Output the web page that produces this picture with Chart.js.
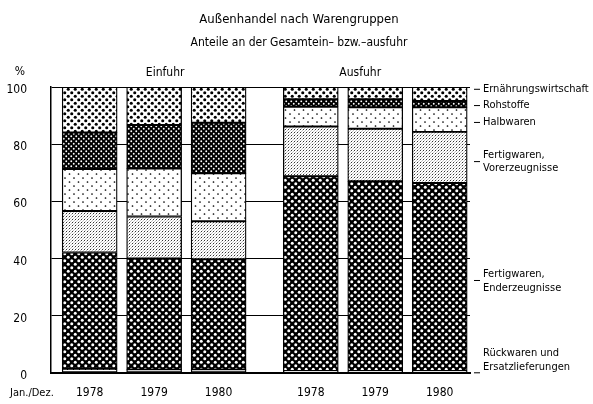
<!DOCTYPE html>
<html>
<head>
<meta charset="utf-8">
<script src="https://cdn.jsdelivr.net/npm/chart.js@4"></script>
<style>
  html,body{margin:0;padding:0;background:#fff;}
  #wrap{width:593px;height:404px;}
</style>
</head>
<body>
<div id="wrap"><canvas id="c" width="593" height="404"></canvas></div>
<script>
// ---- data ----
const categories = ['1978', '1979', '1980', '1978', '1979', '1980'];
const groups = ['Einfuhr', 'Ausfuhr'];
const xPos = [0, 1, 2, 3.43, 4.43, 5.43];
const rueckwaren     = [1.4, 1.2, 1.2, 0.6, 0.6, 0.6];
const enderzeugnisse = [40.7, 38.8, 38.5, 68.2, 66.4, 65.8];
const vorerzeugnisse = [14.5, 14.7, 13.3, 17.4, 18.4, 17.9];
const halbwaren      = [14.7, 16.8, 16.8, 6.9, 7.5, 8.6];
const rohstoffe      = [12.8, 15.2, 17.7, 2.6, 2.8, 2.2];
const ernaehrung     = [15.9, 13.3, 12.5, 4.3, 4.3, 4.9];
const yTicks = [0, 20, 40, 60, 80, 100];
const seriesNames = ['Rückwaren und Ersatzlieferungen', 'Fertigwaren, Enderzeugnisse',
  'Fertigwaren, Vorerzeugnisse', 'Halbwaren', 'Rohstoffe', 'Ernährungswirtschaft'];

const FONT = "'Liberation Sans Narrow', 'DejaVu Sans Condensed', 'Roboto Condensed', 'Liberation Sans', sans-serif";

// ---- patterns ----
function pat(w, h, draw) {
  const c = document.createElement('canvas');
  c.width = w; c.height = h;
  const g = c.getContext('2d');
  draw(g, w, h);
  return g.createPattern(c, 'repeat');
}
function dots(g, pts, r, col) {
  g.fillStyle = col;
  pts.forEach(p => { g.beginPath(); g.arc(p[0], p[1], r, 0, Math.PI * 2); g.fill(); });
}
const pErn = pat(7, 7, (g, w, h) => { g.fillStyle = '#fff'; g.fillRect(0, 0, w, h);
  dots(g, [[1.75, 1.75], [5.25, 5.25]], 1.55, '#000'); });
const pRoh = pat(5, 5, (g, w, h) => { g.fillStyle = '#000'; g.fillRect(0, 0, w, h);
  dots(g, [[1.25, 1.25], [3.75, 3.75]], 0.95, '#fff'); });
const pHalb = pat(9, 8, (g, w, h) => { g.fillStyle = '#fff'; g.fillRect(0, 0, w, h);
  dots(g, [[2, 2], [6.5, 6]], 0.85, '#000'); });
const pVor = pat(3, 3, (g, w, h) => { g.fillStyle = '#fff'; g.fillRect(0, 0, w, h);
  g.fillStyle = 'rgba(0,0,0,0.8)'; g.fillRect(0, 0, 1, 1); g.fillStyle = 'rgba(0,0,0,0.25)'; g.fillRect(1, 2, 1, 1); g.fillRect(2, 1, 1, 1); });
const pEnd = pat(7, 7, (g, w, h) => { g.fillStyle = '#000'; g.fillRect(0, 0, w, h);
  dots(g, [[1.75, 1.75], [5.25, 5.25]], 1.5, '#fff'); });
const pRueck = pat(6, 4, (g, w, h) => { g.fillStyle = '#fff'; g.fillRect(0, 0, w, h);
  g.fillStyle = '#000'; g.fillRect(1, 1, 1, 1); });

const seriesValues = [rueckwaren, enderzeugnisse, vorerzeugnisse, halbwaren, rohstoffe, ernaehrung];
const seriesFills = [pRueck, pEnd, pVor, pHalb, pRoh, pErn];

const datasets = seriesValues.map((vals, s) => ({
  label: seriesNames[s],
  data: xPos.map((x, i) => ({ x: x, y: vals[i] })),
  backgroundColor: seriesFills[s],
  borderColor: '#000',
  borderWidth: 1.3,
  borderSkipped: false,
  barThickness: 55
}));

// ---- text overlays ----
const textPlugin = {
  id: 'texts',
  afterDraw(chart) {
    const ctx = chart.ctx;
    const xs = chart.scales.x, ys = chart.scales.y;
    ctx.save();
    ctx.fillStyle = '#000';
    ctx.textBaseline = 'middle';
    ctx.textAlign = 'center';
    ctx.font = '13px ' + FONT;
    ctx.fillText('Außenhandel nach Warengruppen', 299, 20);
    ctx.font = '12px ' + FONT;
    ctx.fillText('Anteile an der Gesamtein– bzw.–ausfuhr', 299, 43);
    // group labels
    ctx.font = '12px ' + FONT;
    ctx.fillText(groups[0], xs.getPixelForValue(xPos[1]) + 11, 73);
    ctx.fillText(groups[1], xs.getPixelForValue(xPos[4]) - 15, 73);
    ctx.fillText('%', 20, 72);
    ctx.font = '11px ' + FONT;
    ctx.textAlign = 'left';
    ctx.fillText('Jan./Dez.', 10, 393);
    // right labels
    const right = chart.chartArea.right;
    ctx.font = '11px ' + FONT;
    const lab = [
      { lines: ['Ernährungswirtschaft'], v: 99.2, dashY: 99.2 },
      { lines: ['Rohstoffe'], v: 93.5, dashY: 93.5 },
      { lines: ['Halbwaren'], v: 87.6, dashY: 87.6 },
      { lines: ['Fertigwaren,', 'Vorerzeugnisse'], v: 76.2, dashY: 73.9 },
      { lines: ['Fertigwaren,', 'Enderzeugnisse'], v: 34.4, dashY: 32.3 },
      { lines: ['Rückwaren und', 'Ersatzlieferungen'], v: 6.8, dashY: 0.0 }
    ];
    ctx.strokeStyle = '#000';
    ctx.lineWidth = 1;
    lab.forEach(l => {
      const y0 = ys.getPixelForValue(l.v);
      l.lines.forEach((t, k) => ctx.fillText(t, right + 13, y0 + k * 13.5));
      const dy = ys.getPixelForValue(l.dashY);
      ctx.beginPath();
      ctx.moveTo(right + 4, dy);
      ctx.lineTo(right + 10, dy);
      ctx.stroke();
    });
    ctx.restore();
  }
};

Chart.defaults.font.family = FONT;
Chart.defaults.color = '#000';

new Chart(document.getElementById('c'), {
  type: 'bar',
  data: { datasets: datasets },
  plugins: [textPlugin],
  options: {
    responsive: false,
    animation: false,
    layout: { padding: { top: 87, right: 123, left: 0, bottom: 0 } },
    plugins: { legend: { display: false }, tooltip: { enabled: false } },
    scales: {
      x: {
        type: 'linear',
        stacked: true,
        offset: false,
        min: -0.6,
        max: 5.9,
        afterBuildTicks(scale) { scale.ticks = xPos.map(v => ({ value: v })); },
        afterFit(scale) { scale.height = 29; },
        grid: { display: false, drawTicks: false },
        border: { display: true, color: '#000', width: 2 },
        ticks: {
          autoSkip: false,
          maxRotation: 0,
          padding: 13,
          font: { size: 12 },
          callback: (v, i) => categories[i]
        }
      },
      y: {
        stacked: true,
        min: 0,
        max: 100,
        afterBuildTicks(scale) { scale.ticks = yTicks.map(v => ({ value: v })); },
        afterFit(scale) { scale.width = 51; },
        grid: { color: '#000', lineWidth: 1, drawTicks: false },
        border: { display: true, color: '#000', width: 1.5 },
        ticks: { padding: 24, labelOffset: 3, font: { size: 12 } }
      }
    }
  }
});
</script>
</body>
</html>
